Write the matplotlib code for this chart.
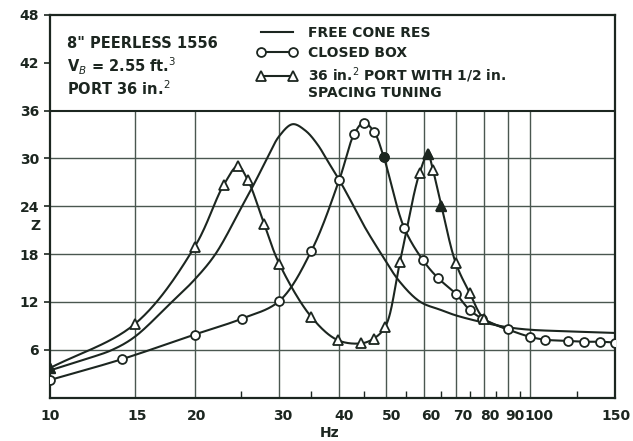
import numpy as np
import matplotlib
matplotlib.use("Agg")
import matplotlib.pyplot as plt
from matplotlib.lines import Line2D
from matplotlib.transforms import ScaledTranslation

# ---------------- data ----------------
free_f = [10, 12, 13.5, 15, 17.8, 20, 22.1, 25.1, 26.7, 28.3, 30, 32, 34, 36, 38,
          40, 42, 45, 48.7, 53.5, 59, 65, 70, 80, 90, 100, 120, 150]
free_z = [3.4, 4.9, 6.0, 7.6, 11.8, 14.8, 18.0, 24.0, 27.0, 30.0, 32.8, 34.3,
          33.5, 31.8, 29.5, 27.3, 25.0, 21.6, 18.2, 14.5, 12.0, 11.0, 10.3, 9.4,
          8.8, 8.5, 8.3, 8.1]

box_f = [10, 14.1, 20, 25.1, 30, 35, 40, 43, 45, 47.3, 49.5, 54.6, 59.8, 64.2, 70,
         74.7, 79.4, 89.7, 100, 107.5, 119.6, 129.5, 139.7, 150]
box_z = [2.2, 4.8, 7.9, 9.9, 12.1, 18.4, 27.3, 33.1, 34.5, 33.3, 30.2, 21.3,
         17.2, 15.0, 13.0, 11.0, 9.9, 8.55, 7.6, 7.25, 7.1, 7.0, 7.0, 6.9]

port_f = [10, 15, 20, 23, 24.6, 25.8, 27.9, 30, 35, 39.7, 44.5, 47.2, 49.9,
          53.5, 58.8, 61.2, 62.7, 65.3, 69.9, 74.8, 80, 89]
port_z = [3.7, 9.2, 18.9, 26.7, 29.0, 27.3, 21.8, 16.8, 10.1, 7.2, 6.8, 7.4,
          8.9, 17.0, 28.2, 30.5, 28.5, 24.0, 16.9, 13.1, 9.9, 8.6]

x_ticks = [10, 15, 20, 30, 40, 50, 60, 70, 80, 90, 100, 150]
y_ticks = [6, 12, 18, 24, 30, 36, 42, 48]
x_minor = [25, 35, 45, 55, 65, 75, 85, 95, 125]
v_grid = [15, 20, 30, 40, 50, 60, 70, 80, 90, 100]

legend_labels = ["FREE CONE RES", "CLOSED BOX", "36 in.$^{2}$ PORT WITH 1/2 in."]
legend_extra = "SPACING TUNING"
info_lines = ['8" PEERLESS 1556', "V$_{B}$ = 2.55 ft.$^{3}$", "PORT 36 in.$^{2}$"]

# small hand-lettering offsets of the x tick labels (pixels)
label_shift = [0, 3, 2, 4, 5, 6, 7, 7, 6, 6, 9, 1]


def smooth(xv, yv, n=30, alpha=0.5):
    """centripetal Catmull-Rom through the given points (in screen-like units)."""
    P = np.column_stack([np.log10(xv) * 480.0, np.asarray(yv, float) * 8.0])
    P = np.vstack([2 * P[0] - P[1], P, 2 * P[-1] - P[-2]])
    out = []
    for i in range(1, len(P) - 2):
        p0, p1, p2, p3 = P[i - 1], P[i], P[i + 1], P[i + 2]
        t0 = 0.0
        t1 = t0 + np.linalg.norm(p1 - p0) ** alpha
        t2 = t1 + np.linalg.norm(p2 - p1) ** alpha
        t3 = t2 + np.linalg.norm(p3 - p2) ** alpha
        t = np.linspace(t1, t2, n)[:, None]
        A1 = (t1 - t) / (t1 - t0) * p0 + (t - t0) / (t1 - t0) * p1
        A2 = (t2 - t) / (t2 - t1) * p1 + (t - t1) / (t2 - t1) * p2
        A3 = (t3 - t) / (t3 - t2) * p2 + (t - t2) / (t3 - t2) * p3
        B1 = (t2 - t) / (t2 - t0) * A1 + (t - t0) / (t2 - t0) * A2
        B2 = (t3 - t) / (t3 - t1) * A2 + (t - t1) / (t3 - t1) * A3
        C = (t2 - t) / (t2 - t1) * B1 + (t - t1) / (t2 - t1) * B2
        out.append(C)
    C = np.vstack(out)
    return 10 ** (C[:, 0] / 480.0), C[:, 1] / 8.0


INK = "#1c2620"
GRID = "#4a5750"
FONT = dict(family="DejaVu Sans", weight="bold", color=INK)

fig = plt.figure(figsize=(6.33, 4.41), dpi=100)
ax = fig.add_axes([50 / 633, 1 - 397.5 / 441, (615 - 50) / 633, (397.5 - 15) / 441])
ax.set_xscale("log")
ax.set_xlim(10, 150)
ax.set_ylim(0, 48)

# grid
for v in v_grid:
    ax.axvline(v, ymin=0, ymax=36 / 48, color=GRID, lw=1.0, zorder=1)
for h in [6, 12, 18, 24, 30]:
    ax.axhline(h, color=GRID, lw=1.0, zorder=1)
ax.axhline(36, color=INK, lw=1.5, zorder=2)

LW = 1.5
MS_O = 6.4
MS_T = 7.2
# curves
xs, ys = smooth(free_f, free_z)
ax.plot(xs, ys, color=INK, lw=LW, zorder=3)

xs, ys = smooth(box_f, box_z)
ax.plot(xs, ys, color=INK, lw=LW, zorder=3)
ax.plot(box_f, box_z, ls="none", marker="o", ms=MS_O, mfc="white", mec=INK,
        mew=1.3, zorder=4)
ax.plot([box_f[10]], [box_z[10]], ls="none", marker="o", ms=MS_O, mfc=INK,
        mec=INK, zorder=5)

xs, ys = smooth(port_f, port_z)
ax.plot(xs, ys, color=INK, lw=LW, zorder=3)
ax.plot(port_f[:-1], port_z[:-1], ls="none", marker="^", ms=MS_T, mfc="white",
        mec=INK, mew=1.3, zorder=4)
for i in (0, 15, 17):
    ax.plot([port_f[i]], [port_z[i]], ls="none", marker="^", ms=MS_T, mfc=INK,
            mec=INK, zorder=5)

# axes styling
for s in ax.spines.values():
    s.set_color(INK)
    s.set_linewidth(1.6)
ax.set_xticks(x_ticks)
ax.set_xticklabels([str(v) for v in x_ticks])
ax.set_xticks(x_minor, minor=True)
ax.set_xticklabels([], minor=True)
ax.tick_params(axis="x", which="major", length=0, pad=8, labelsize=10)
ax.tick_params(axis="x", which="minor", direction="in", length=5, width=1.0,
               color=INK)
ax.set_yticks(y_ticks)
ax.tick_params(axis="y", which="major", length=4, width=1.2, color=INK,
               pad=4, labelsize=10)
for lab in ax.get_xticklabels() + ax.get_yticklabels():
    lab.set_fontweight("bold")
    lab.set_color(INK)
    lab.set_family("DejaVu Sans")
for lab, dx in zip(ax.get_xticklabels(), label_shift):
    lab.set_transform(lab.get_transform() + ScaledTranslation(dx / 100, 0, fig.dpi_scale_trans))

fig.text(330 / 633, 1 - 433 / 441, "Hz", ha="center", va="center", fontsize=10, **FONT)
fig.text(35 / 633, 1 - 226 / 441, "Z", ha="center", va="center", fontsize=10, **FONT)

# info text
for t, yy in zip(info_lines, [43, 66, 89]):
    fig.text(67 / 633, 1 - yy / 441, t, ha="left", va="center", fontsize=10.5, **FONT)

# legend
handles = [
    Line2D([], [], color=INK, lw=LW),
    Line2D([], [], color=INK, lw=LW, marker="o", ms=MS_O, mfc="white", mec=INK, mew=1.3),
    Line2D([], [], color=INK, lw=LW, marker="^", ms=MS_T, mfc="white", mec=INK, mew=1.3),
]
leg = ax.legend(handles, legend_labels, loc="upper left",
                bbox_to_anchor=(257 / 633, 1 - 26 / 441),
                bbox_transform=fig.transFigure, frameon=False, borderpad=0,
                borderaxespad=0, handlelength=2.9, handletextpad=0.75,
                labelspacing=0.42, numpoints=2,
                prop=dict(family="DejaVu Sans", weight="bold", size=10))
for t in leg.get_texts():
    t.set_color(INK)
fig.text(308 / 633, 1 - 93 / 441, legend_extra, ha="left", va="center", fontsize=10, **FONT)

fig.savefig("out.png", dpi=100, facecolor="white")
